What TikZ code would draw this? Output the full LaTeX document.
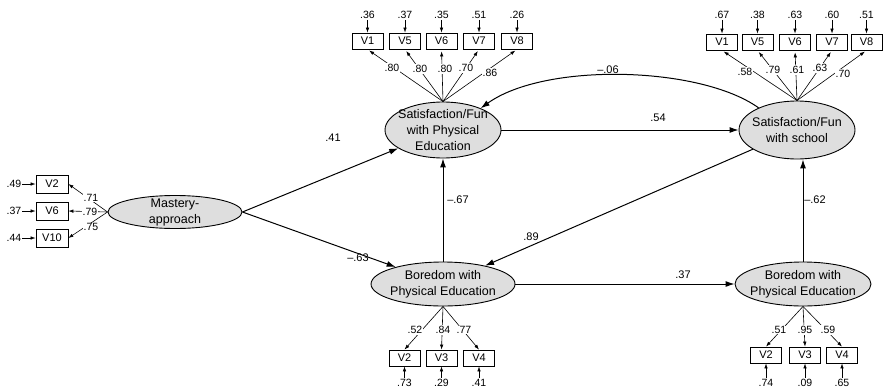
\documentclass[tikz,border=0pt]{standalone}
\usepackage{fontspec}
\setmainfont{Liberation Sans}
\usetikzlibrary{shapes.geometric,arrows.meta}
\definecolor{latfill}{RGB}{222,222,222}
\tikzset{
 latent/.style={ellipse,draw=black,line width=0.9pt,fill=latfill,inner sep=0pt},
 lattext/.style={align=center,inner sep=0pt,font=\fontsize{12.5}{16}\selectfont},
 indbox/.style={draw=black,line width=0.8pt,minimum width=31pt,minimum height=16pt,inner sep=0pt,font=\fontsize{11}{12}\selectfont},
 errtxt/.style={inner sep=1pt,font=\fontsize{10.5}{12}\selectfont},
 loadtxt/.style={inner sep=0.8pt,fill=white,font=\fontsize{10.5}{12}\selectfont},
 coeftxt/.style={inner sep=1pt,font=\fontsize{11}{12}\selectfont},
 sarrow/.style={line width=1pt,-{Latex[length=9pt,width=6pt]}},
 larrow/.style={line width=0.6pt,-{Latex[length=5pt,width=3.5pt]}},
}
\begin{document}
\begin{tikzpicture}[x=1pt,y=-1pt]
\useasboundingbox (0,0) rectangle (883,391);
% latent variables
\node[latent,minimum width=134pt,minimum height=33pt] (M) at (175,212) {};
\node[lattext] (Mt) at (M) {Mastery-\\approach};
\node[latent,minimum width=116pt,minimum height=56pt] (SP) at (443,130) {};
\node[lattext] (SPt) at (SP) {Satisfaction/Fun\\with Physical\\Education};
\node[latent,minimum width=116pt,minimum height=58pt] (SS) at (797,130) {};
\node[lattext] (SSt) at (SS) {Satisfaction/Fun\\with school};
\node[latent,minimum width=144pt,minimum height=44pt] (BP) at (443,284) {};
\node[lattext] (BPt) at (BP) {Boredom with\\Physical Education};
\node[latent,minimum width=136pt,minimum height=44pt] (BS) at (803,284) {};
\node[lattext] (BSt) at (BS) {Boredom with\\Physical Education};
% structural paths
\draw[sarrow] (M.east) -- (SP);
\draw[sarrow] (M.east) -- (BP);
\draw[sarrow] (SP) -- (SS);
\draw[sarrow] (BP) -- (BS);
\draw[sarrow] (BP) -- (SP);
\draw[sarrow] (BS.north) -- (BS.north |- SS.south);
\draw[sarrow] (SS) -- (BP);
\draw[sarrow] (SS.150) .. controls (700,66) and (545,62) .. (SP.30);
\node[coeftxt] (c1) at (333,138) {.41};
\node[coeftxt] (c2) at (358,258) {–.63};
\node[coeftxt] (c3) at (658,118) {.54};
\node[coeftxt] (c4) at (608,70) {–.06};
\node[coeftxt] (c5) at (458,200) {–.67};
\node[coeftxt] (c6) at (815,200) {–.62};
\node[coeftxt] (c7) at (531,237) {.89};
\node[coeftxt] (c8) at (683,275) {.37};
% indicators: mastery
\foreach \i/\v/\y/\e/\l/\lx/\ly in {a/V2/184/.49/.71/91/198, b/V6/211/.37/.79/90/212, c/V10/238/.44/.75/91/227}{
 \node[indbox,minimum height=18pt,minimum width=32pt] (ml\i) at (52,\y) {\v};
 \node[errtxt] (mle\i) at (14,\y) {\e};
 \draw[larrow] (mle\i) -- (ml\i);
 \draw[larrow] (M.west) -- (ml\i.east);
 \node[loadtxt] (mll\i) at (\lx,\ly) {\l};
}
% indicators: satisfaction PE
\foreach \i/\v/\x/\e/\l/\lx/\ly in {a/V1/367.5/.36/.80/392/68, b/V5/405/.37/.80/420/69, c/V6/441.5/.35/.80/445/69, d/V7/479/.51/.70/466/68, e/V8/517/.26/.86/490/73}{
 \node[indbox] (tl\i) at (\x,41) {\v};
 \node[errtxt] (tle\i) at (\x,15) {\e};
 \draw[larrow] (tle\i) -- (tl\i);
 \draw[larrow,shorten >=2pt] (SP.north) -- (tl\i.south);
 \node[loadtxt] (tll\i) at (\lx,\ly) {\l};
}
% indicators: satisfaction school
\foreach \i/\v/\x/\e/\l/\lx/\ly in {a/V1/722/.67/.58/745/72, b/V5/757.5/.38/.79/773/70, c/V6/795/.63/.61/797/70, d/V7/832/.60/.63/820/68, e/V8/866.5/.51/.70/843/74}{
 \node[indbox] (tr\i) at (\x,42) {\v};
 \node[errtxt] (tre\i) at (\x,15) {\e};
 \draw[larrow] (tre\i) -- (tr\i);
 \draw[larrow,shorten >=2pt] (SS.north) -- (tr\i.south);
 \node[loadtxt] (trl\i) at (\lx,\ly) {\l};
}
% indicators: boredom PE (left)
\foreach \i/\v/\x/\e/\l/\lx/\ly in {a/V2/404.5/.73/.52/415/330, b/V3/441.5/.29/.84/443/330, c/V4/479/.41/.77/464/330}{
 \node[indbox] (bl\i) at (\x,358) {\v};
 \node[errtxt] (ble\i) at (\x,383) {\e};
 \draw[larrow] (ble\i) -- (bl\i);
 \draw[larrow] (BP.south) -- (bl\i.north);
 \node[loadtxt] (bll\i) at (\lx,\ly) {\l};
}
% indicators: boredom PE (right)
\foreach \i/\v/\x/\e/\l/\lx/\ly in {a/V2/766/.74/.51/779/330, b/V3/805/.09/.95/805/330, c/V4/842/.65/.59/828/330}{
 \node[indbox] (br\i) at (\x,355) {\v};
 \node[errtxt] (bre\i) at (\x,383) {\e};
 \draw[larrow] (bre\i) -- (br\i);
 \draw[larrow] (BS.south) -- (br\i.north);
 \node[loadtxt] (brl\i) at (\lx,\ly) {\l};
}
\end{tikzpicture}
\end{document}
